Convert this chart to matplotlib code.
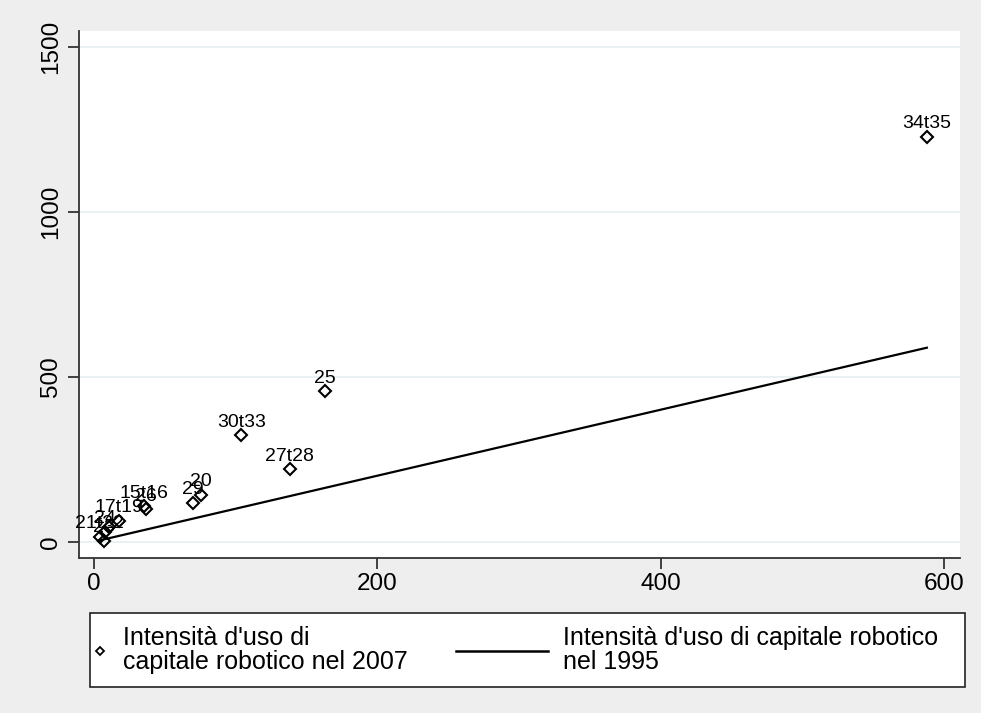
import numpy as np
import matplotlib
matplotlib.use("Agg")
from matplotlib import pyplot as plt
from matplotlib.lines import Line2D
from matplotlib.patches import Rectangle

# intensita' d'uso di capitale robotico per settore (1995 sull'asse x, 2007 sull'asse y)
settori = ["34t35", "25", "30t33", "27t28", "20", "29", "15t16", "26",
           "17t19", "21t22", "23", "24", ""]
int1995 = [587.6, 163.0, 104.0, 138.1, 75.5, 69.7, 35.1, 36.5,
           17.7, 4.0, 7.0, 7.5, 10.6]
int2007 = [1227, 455, 323, 219, 142, 118, 108, 98,
           64, 15, 3, 30, 44]

xticks = [0, 200, 400, 600]
yticks = [0, 500, 1000, 1500]

lab_punti = "Intensità d'uso di\ncapitale robotico nel 2007"
lab_linea = "Intensità d'uso di capitale robotico\nnel 1995"

plt.rcParams['font.family'] = ['Liberation Sans', 'DejaVu Sans']
sfondo = '#EEEEEE'

fig = plt.figure(figsize=(9.81, 7.13), dpi=100, facecolor=sfondo)
ax = fig.add_axes([79/981, 1 - 558/713, 881/981, 527/713])
ax.set_facecolor('white')

for yt in yticks:
    ax.axhline(yt, color='#E6EFF1', lw=1.2, zorder=0)

# retta di riferimento: valore 1995 contro se stesso
xs = np.sort(np.array(int1995))
ax.plot([xs[0], xs[-1]], [xs[0], xs[-1]], color='black', lw=1.6, zorder=2)

ax.plot(int1995, int2007, linestyle='none', marker='D', ms=6.3,
        mfc='none', mec='black', mew=1.5, zorder=3)
for s, x, y in zip(settori, int1995, int2007):
    if s:
        ax.annotate(s, (x, y), xytext=(0, 6), textcoords='offset points',
                    ha='center', va='baseline', fontsize=14)

ax.set_xlim(-10.6, 611)
ax.set_ylim(-49.4, 1547)
ax.set_xticks(xticks)
ax.set_yticks(yticks)
ax.tick_params(axis='both', length=8, width=1.2, color='#222222',
               labelsize=17.5)
ax.tick_params(axis='x', pad=3)
ax.tick_params(axis='y', pad=4)
for t in ax.get_yticklabels():
    t.set_rotation(90)
    t.set_va('center')
for side in ['top', 'right']:
    ax.spines[side].set_visible(False)
for side in ['left', 'bottom']:
    ax.spines[side].set_color('#333333')
    ax.spines[side].set_linewidth(1.3)

# legenda sotto il grafico
fig.patches.append(Rectangle((90/981, 1 - 687/713), 875/981, 74/713,
                             transform=fig.transFigure, facecolor='white',
                             edgecolor='#222222', lw=1.2, zorder=0))
h1 = Line2D([], [], linestyle='none', marker='D', ms=4.2, mfc='none',
            mec='black', mew=1.3)
h2 = Line2D([], [], color='black', lw=1.8)
leg1 = fig.legend([h1], [lab_punti], loc='center left',
                  bbox_to_anchor=(92.5/981, 1 - 650/713), frameon=False,
                  borderpad=0, borderaxespad=0, handlelength=0.6,
                  handletextpad=0.62, fontsize=18, labelspacing=0)
leg2 = fig.legend([h2], [lab_linea], loc='center left',
                  bbox_to_anchor=(456/981, 1 - 650/713), frameon=False,
                  borderpad=0, borderaxespad=0, handlelength=3.68,
                  handletextpad=0.6, fontsize=18, labelspacing=0)
for lg in (leg1, leg2):
    for t in lg.get_texts():
        t.set_linespacing(1.0)

fig.savefig('out.png', dpi=100, facecolor=sfondo)
